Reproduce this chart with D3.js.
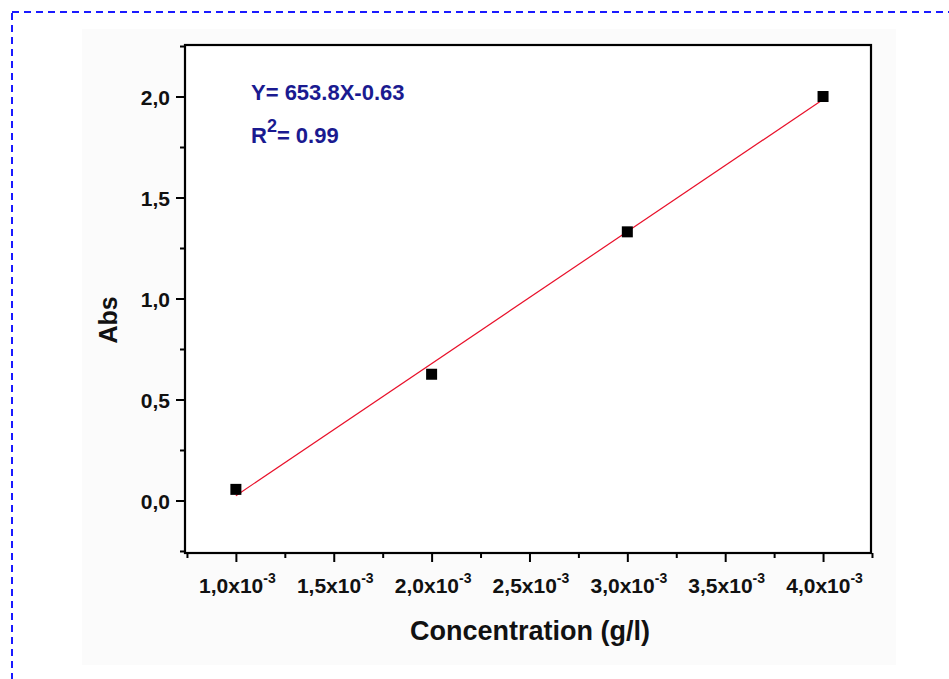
<!DOCTYPE html>
<html>
<head>
<meta charset="utf-8">
<script src="https://cdn.jsdelivr.net/npm/d3@7"></script>
<style>
  html, body { margin: 0; padding: 0; background: #ffffff; }
  svg { display: block; }
  text { font-family: Arial, "Liberation Sans", sans-serif; }
</style>
</head>
<body>
<svg id="chart" width="949" height="679"></svg>
<script>
// Calibration data: concentration (g/l) vs absorbance
const concentrations = [1.0e-3, 2.0e-3, 3.0e-3, 4.0e-3];
const absorbances = [0.055, 0.625, 1.33, 2.0];

// Linear fit: Y = slope * X + intercept
const fitSlope = 653.8;
const fitIntercept = -0.63;
const fitRange = [1.0e-3, 4.0e-3];

const xTickValues = [1.0e-3, 1.5e-3, 2.0e-3, 2.5e-3, 3.0e-3, 3.5e-3, 4.0e-3];
const xTickMantissas = ["1,0", "1,5", "2,0", "2,5", "3,0", "3,5", "4,0"];
const yTickValues = [0.0, 0.5, 1.0, 1.5, 2.0];
const yTickLabels = ["0,0", "0,5", "1,0", "1,5", "2,0"];

const svg = d3.select("#chart");

// Outer dashed frame
svg.append("rect")
  .attr("x", 12).attr("y", 12)
  .attr("width", 960).attr("height", 700)
  .attr("fill", "none")
  .attr("stroke", "#1a1aff")
  .attr("stroke-width", 2)
  .attr("stroke-dasharray", "7,5");

// Light panel behind the graph
svg.append("rect")
  .attr("x", 82).attr("y", 29)
  .attr("width", 814).attr("height", 636)
  .attr("fill", "#fbfbfb");

const plot = { left: 185, top: 45, right: 871, bottom: 553 };

const x = d3.scaleLinear().domain([0.74e-3, 4.245e-3]).range([plot.left, plot.right]);
const y = d3.scaleLinear().domain([-0.26, 2.255]).range([plot.bottom, plot.top]);

// Plot area
svg.append("rect")
  .attr("x", plot.left).attr("y", plot.top)
  .attr("width", plot.right - plot.left).attr("height", plot.bottom - plot.top)
  .attr("fill", "#ffffff");

// Minor ticks
const xMinor = d3.range(0.75e-3, 4.25e-3 + 1e-9, 0.25e-3)
  .filter(v => !xTickValues.some(t => Math.abs(t - v) < 1e-9));
const yMinor = d3.range(-0.25, 2.25 + 1e-9, 0.25)
  .filter(v => !yTickValues.some(t => Math.abs(t - v) < 1e-9));

const xAxis = d3.axisBottom(x)
  .tickValues(xTickValues)
  .tickSize(9)
  .tickFormat("");
const xAxisMinor = d3.axisBottom(x).tickValues(xMinor).tickSize(5).tickFormat("");
const yAxis = d3.axisLeft(y)
  .tickValues(yTickValues)
  .tickSize(9)
  .tickFormat((d, i) => yTickLabels[i]);
const yAxisMinor = d3.axisLeft(y).tickValues(yMinor).tickSize(5).tickFormat("");

function styleAxis(g) {
  g.select(".domain").remove();
  g.selectAll(".tick line").attr("stroke", "#000").attr("stroke-width", 2);
}

const gx = svg.append("g").attr("transform", `translate(0,${plot.bottom})`).call(xAxis).call(styleAxis);
svg.append("g").attr("transform", `translate(0,${plot.bottom})`).call(xAxisMinor).call(styleAxis);
const gy = svg.append("g").attr("transform", `translate(${plot.left},0)`).call(yAxis).call(styleAxis);
svg.append("g").attr("transform", `translate(${plot.left},0)`).call(yAxisMinor).call(styleAxis);

gy.selectAll(".tick text")
  .attr("x", -15)
  .attr("dy", "0.36em")
  .attr("font-size", 21)
  .attr("font-weight", "bold")
  .attr("fill", "#111");

// X tick labels with scientific notation
gx.selectAll(".tick").each(function(d, i) {
  const t = d3.select(this).append("text")
    .attr("x", 1)
    .attr("y", 40)
    .attr("text-anchor", "middle")
    .attr("font-size", 21)
    .attr("font-weight", "bold")
    .attr("fill", "#111");
  t.append("tspan").text(xTickMantissas[i] + "x10");
  t.append("tspan").attr("dy", -10).attr("font-size", 14).text("-3");
});

// Frame
svg.append("rect")
  .attr("x", plot.left).attr("y", plot.top)
  .attr("width", plot.right - plot.left).attr("height", plot.bottom - plot.top)
  .attr("fill", "none")
  .attr("stroke", "#000")
  .attr("stroke-width", 2.2);

// Fit line
const fitPoints = fitRange.map(v => [v, fitSlope * v + fitIntercept]);
svg.append("path")
  .attr("d", d3.line().x(d => x(d[0])).y(d => y(d[1]))(fitPoints))
  .attr("stroke", "#e8102a")
  .attr("stroke-width", 1.2)
  .attr("fill", "none");

// Data markers
const pts = concentrations.map((c, i) => ({ c, a: absorbances[i] }));
svg.append("g").selectAll("rect").data(pts).join("rect")
  .attr("x", d => x(d.c) - 5.5)
  .attr("y", d => y(d.a) - 5.5)
  .attr("width", 11).attr("height", 11)
  .attr("fill", "#000");

// Equation annotation
const eq = svg.append("g").attr("fill", "#1a1a90").attr("font-weight", "bold");
eq.append("text").attr("x", 251).attr("y", 100).attr("font-size", 22)
  .text(`Y= ${fitSlope}X${fitIntercept}`);
const r2 = eq.append("text").attr("x", 251).attr("y", 143).attr("font-size", 22);
r2.append("tspan").text("R");
r2.append("tspan").attr("dy", -11).attr("font-size", 18).text("2");
r2.append("tspan").attr("dy", 11).text("= 0.99");

// Axis titles
svg.append("text")
  .attr("x", 530).attr("y", 640)
  .attr("text-anchor", "middle")
  .attr("font-size", 27)
  .attr("font-weight", "bold")
  .attr("fill", "#111")
  .text("Concentration (g/l)");

svg.append("text")
  .attr("transform", "translate(117,320) rotate(-90)")
  .attr("text-anchor", "middle")
  .attr("font-size", 25)
  .attr("font-weight", "bold")
  .attr("fill", "#111")
  .text("Abs");
</script>
</body>
</html>
